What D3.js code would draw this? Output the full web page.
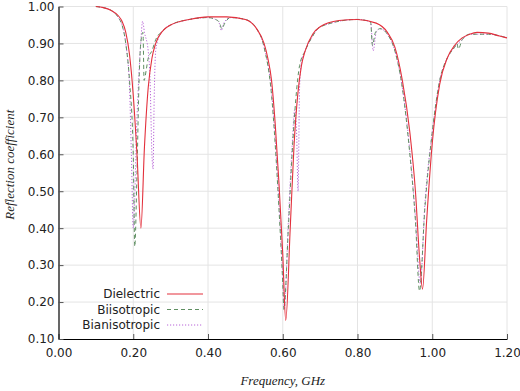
<!DOCTYPE html>
<html>
<head>
<meta charset="utf-8">
<script src="https://cdn.jsdelivr.net/npm/d3@7"></script>
<style>
  body { margin: 0; background: #fff; }
  svg { display: block; }
</style>
</head>
<body>
<script>
// Frequency (GHz) and reflection coefficient
var dielectricF = [0.10, 0.12, 0.14, 0.16, 0.17, 0.18, 0.19, 0.20, 0.21, 0.2205, 0.23, 0.24, 0.25, 0.26, 0.28, 0.30, 0.35, 0.40, 0.45, 0.50, 0.53, 0.55, 0.56, 0.57, 0.58, 0.59, 0.60, 0.608, 0.62, 0.63, 0.64, 0.65, 0.66, 0.68, 0.70, 0.75, 0.80, 0.85, 0.88, 0.90, 0.92, 0.94, 0.955, 0.966, 0.974, 0.985, 1.00, 1.02, 1.04, 1.06, 1.08, 1.10, 1.12, 1.15, 1.18, 1.20];
var dielectricR = [1.00, 0.997, 0.99, 0.975, 0.96, 0.93, 0.87, 0.76, 0.60, 0.40, 0.62, 0.78, 0.86, 0.90, 0.935, 0.95, 0.965, 0.972, 0.972, 0.965, 0.94, 0.90, 0.86, 0.80, 0.68, 0.52, 0.33, 0.15, 0.40, 0.62, 0.76, 0.84, 0.88, 0.925, 0.945, 0.962, 0.965, 0.955, 0.93, 0.89, 0.80, 0.66, 0.50, 0.32, 0.235, 0.42, 0.63, 0.79, 0.86, 0.895, 0.915, 0.925, 0.93, 0.928, 0.92, 0.915];

var biisoF = [0.10, 0.14, 0.16, 0.17, 0.18, 0.19, 0.20, 0.204, 0.21, 0.215, 0.22, 0.226, 0.229, 0.235, 0.24, 0.25, 0.26, 0.28, 0.30, 0.35, 0.40, 0.42, 0.43, 0.437, 0.445, 0.46, 0.50, 0.53, 0.55, 0.57, 0.59, 0.60, 0.603, 0.615, 0.625, 0.635, 0.645, 0.66, 0.68, 0.70, 0.80, 0.835, 0.84, 0.848, 0.86, 0.88, 0.90, 0.92, 0.94, 0.955, 0.966, 0.98, 1.00, 1.02, 1.04, 1.06, 1.066, 1.07, 1.08, 1.10, 1.15, 1.20];
var biisoR = [1.00, 0.99, 0.97, 0.95, 0.90, 0.80, 0.60, 0.35, 0.55, 0.78, 0.90, 0.93, 0.80, 0.83, 0.86, 0.88, 0.91, 0.935, 0.95, 0.965, 0.97, 0.965, 0.958, 0.94, 0.955, 0.97, 0.965, 0.94, 0.89, 0.76, 0.45, 0.25, 0.18, 0.40, 0.60, 0.75, 0.84, 0.88, 0.92, 0.945, 0.965, 0.958, 0.895, 0.93, 0.94, 0.925, 0.88, 0.78, 0.60, 0.42, 0.23, 0.45, 0.66, 0.80, 0.86, 0.89, 0.90, 0.885, 0.91, 0.925, 0.925, 0.915];

var bianisoF = [0.10, 0.14, 0.16, 0.17, 0.18, 0.19, 0.195, 0.20, 0.21, 0.22, 0.225, 0.23, 0.24, 0.245, 0.25, 0.253, 0.256, 0.26, 0.27, 0.30, 0.40, 0.42, 0.43, 0.436, 0.442, 0.46, 0.50, 0.53, 0.55, 0.57, 0.59, 0.60, 0.604, 0.615, 0.625, 0.632, 0.637, 0.641, 0.645, 0.65, 0.66, 0.68, 0.70, 0.80, 0.835, 0.842, 0.85, 0.86, 0.88, 0.90, 0.92, 0.94, 0.955, 0.968, 0.98, 1.00, 1.02, 1.04, 1.06, 1.08, 1.10, 1.15, 1.20];
var bianisoR = [1.00, 0.99, 0.97, 0.95, 0.90, 0.78, 0.60, 0.40, 0.70, 0.90, 0.96, 0.93, 0.88, 0.80, 0.60, 0.56, 0.75, 0.88, 0.92, 0.95, 0.97, 0.965, 0.955, 0.935, 0.955, 0.97, 0.965, 0.94, 0.89, 0.77, 0.47, 0.27, 0.18, 0.42, 0.62, 0.72, 0.66, 0.50, 0.78, 0.85, 0.88, 0.92, 0.945, 0.965, 0.958, 0.88, 0.93, 0.94, 0.925, 0.88, 0.78, 0.61, 0.43, 0.25, 0.46, 0.66, 0.80, 0.86, 0.89, 0.91, 0.925, 0.925, 0.915];

var xTicks = [0.00, 0.20, 0.40, 0.60, 0.80, 1.00, 1.20];
var yTicks = [0.10, 0.20, 0.30, 0.40, 0.50, 0.60, 0.70, 0.80, 0.90, 1.00];

// Graph dimensions
var margin = {top: 6.5, right: 13, bottom: 52, left: 58.5},
    width = 520 - margin.left - margin.right,
    height = 391 - margin.top - margin.bottom;

var x = d3.scaleLinear().domain([0, 1.2]).range([0, width]);
var y = d3.scaleLinear().domain([0.1, 1.0]).range([height, 0]);

var svg = d3.select('body').append('svg')
    .attr('width', 520)
    .attr('height', 391);

var chart = svg.append('g')
    .attr('transform', 'translate(' + margin.left + ',' + margin.top + ')');

// Grid
chart.append('g').selectAll('line.gx')
    .data(xTicks.slice(1))
    .enter().append('line')
    .attr('x1', function(d) { return x(d); })
    .attr('x2', function(d) { return x(d); })
    .attr('y1', 0).attr('y2', height)
    .attr('stroke', '#e4e4e4').attr('stroke-width', 1);
chart.append('g').selectAll('line.gy')
    .data(yTicks.slice(1))
    .enter().append('line')
    .attr('y1', function(d) { return y(d); })
    .attr('y2', function(d) { return y(d); })
    .attr('x1', 0).attr('x2', width)
    .attr('stroke', '#e4e4e4').attr('stroke-width', 1);

// Axes
var xAxis = d3.axisBottom(x).tickValues(xTicks).tickFormat(d3.format('.2f'))
    .tickSizeInner(-5).tickSizeOuter(0).tickPadding(9);
var yAxis = d3.axisLeft(y).tickValues(yTicks).tickFormat(d3.format('.2f'))
    .tickSizeInner(-5).tickSizeOuter(0).tickPadding(4);

var gx = chart.append('g')
    .attr('transform', 'translate(0,' + height + ')')
    .call(xAxis);
var gy = chart.append('g').call(yAxis);

[gx, gy].forEach(function(g) {
    g.select('.domain').attr('stroke', '#000').attr('stroke-width', 1.2);
    g.selectAll('.tick line').attr('stroke', '#555');
    g.selectAll('.tick text')
        .attr('fill', '#222')
        .style('font-family', 'DejaVu Sans, sans-serif')
        .style('font-size', '12px');
});

// Axis titles
svg.append('text')
    .attr('x', margin.left + width / 2)
    .attr('y', 385)
    .attr('text-anchor', 'middle')
    .style('font-family', 'Liberation Serif, serif')
    .style('font-style', 'italic')
    .style('font-size', '13px')
    .attr('fill', '#222')
    .text('Frequency, GHz');

svg.append('text')
    .attr('transform', 'translate(14,' + (margin.top + height / 2 - 8) + ') rotate(-90)')
    .attr('text-anchor', 'middle')
    .style('font-family', 'Liberation Serif, serif')
    .style('font-style', 'italic')
    .style('font-size', '13px')
    .attr('fill', '#222')
    .text('Reflection coefficient');

// Series
var series = [
    {name: 'Dielectric', f: dielectricF, r: dielectricR, color: '#e3303c', dash: null, w: 1.1},
    {name: 'Biisotropic', f: biisoF, r: biisoR, color: '#5f8f62', dash: '4,3', w: 1},
    {name: 'Bianisotropic', f: bianisoF, r: bianisoR, color: '#b865d8', dash: '1.2,1.8', w: 1}
];

var line = d3.line()
    .x(function(d) { return x(d[0]); })
    .y(function(d) { return y(d[1]); })
    .curve(d3.curveMonotoneX);

series.slice().reverse().forEach(function(s) {
    chart.append('path')
        .datum(d3.zip(s.f, s.r))
        .attr('fill', 'none')
        .attr('stroke', s.color)
        .attr('stroke-width', s.w)
        .attr('stroke-dasharray', s.dash)
        .attr('d', line);
});

// Legend
var legend = svg.append('g');
series.forEach(function(s, i) {
    var ly = 294 + i * 15.5;
    legend.append('text')
        .attr('x', 160).attr('y', ly)
        .attr('dy', '0.35em')
        .attr('text-anchor', 'end')
        .style('font-family', 'DejaVu Sans, sans-serif')
        .style('font-size', '12px')
        .attr('fill', '#222')
        .text(s.name);
    legend.append('line')
        .attr('x1', 167).attr('x2', 203)
        .attr('y1', ly).attr('y2', ly)
        .attr('stroke', s.color)
        .attr('stroke-width', s.w)
        .attr('stroke-dasharray', s.dash);
});
</script>
</body>
</html>
